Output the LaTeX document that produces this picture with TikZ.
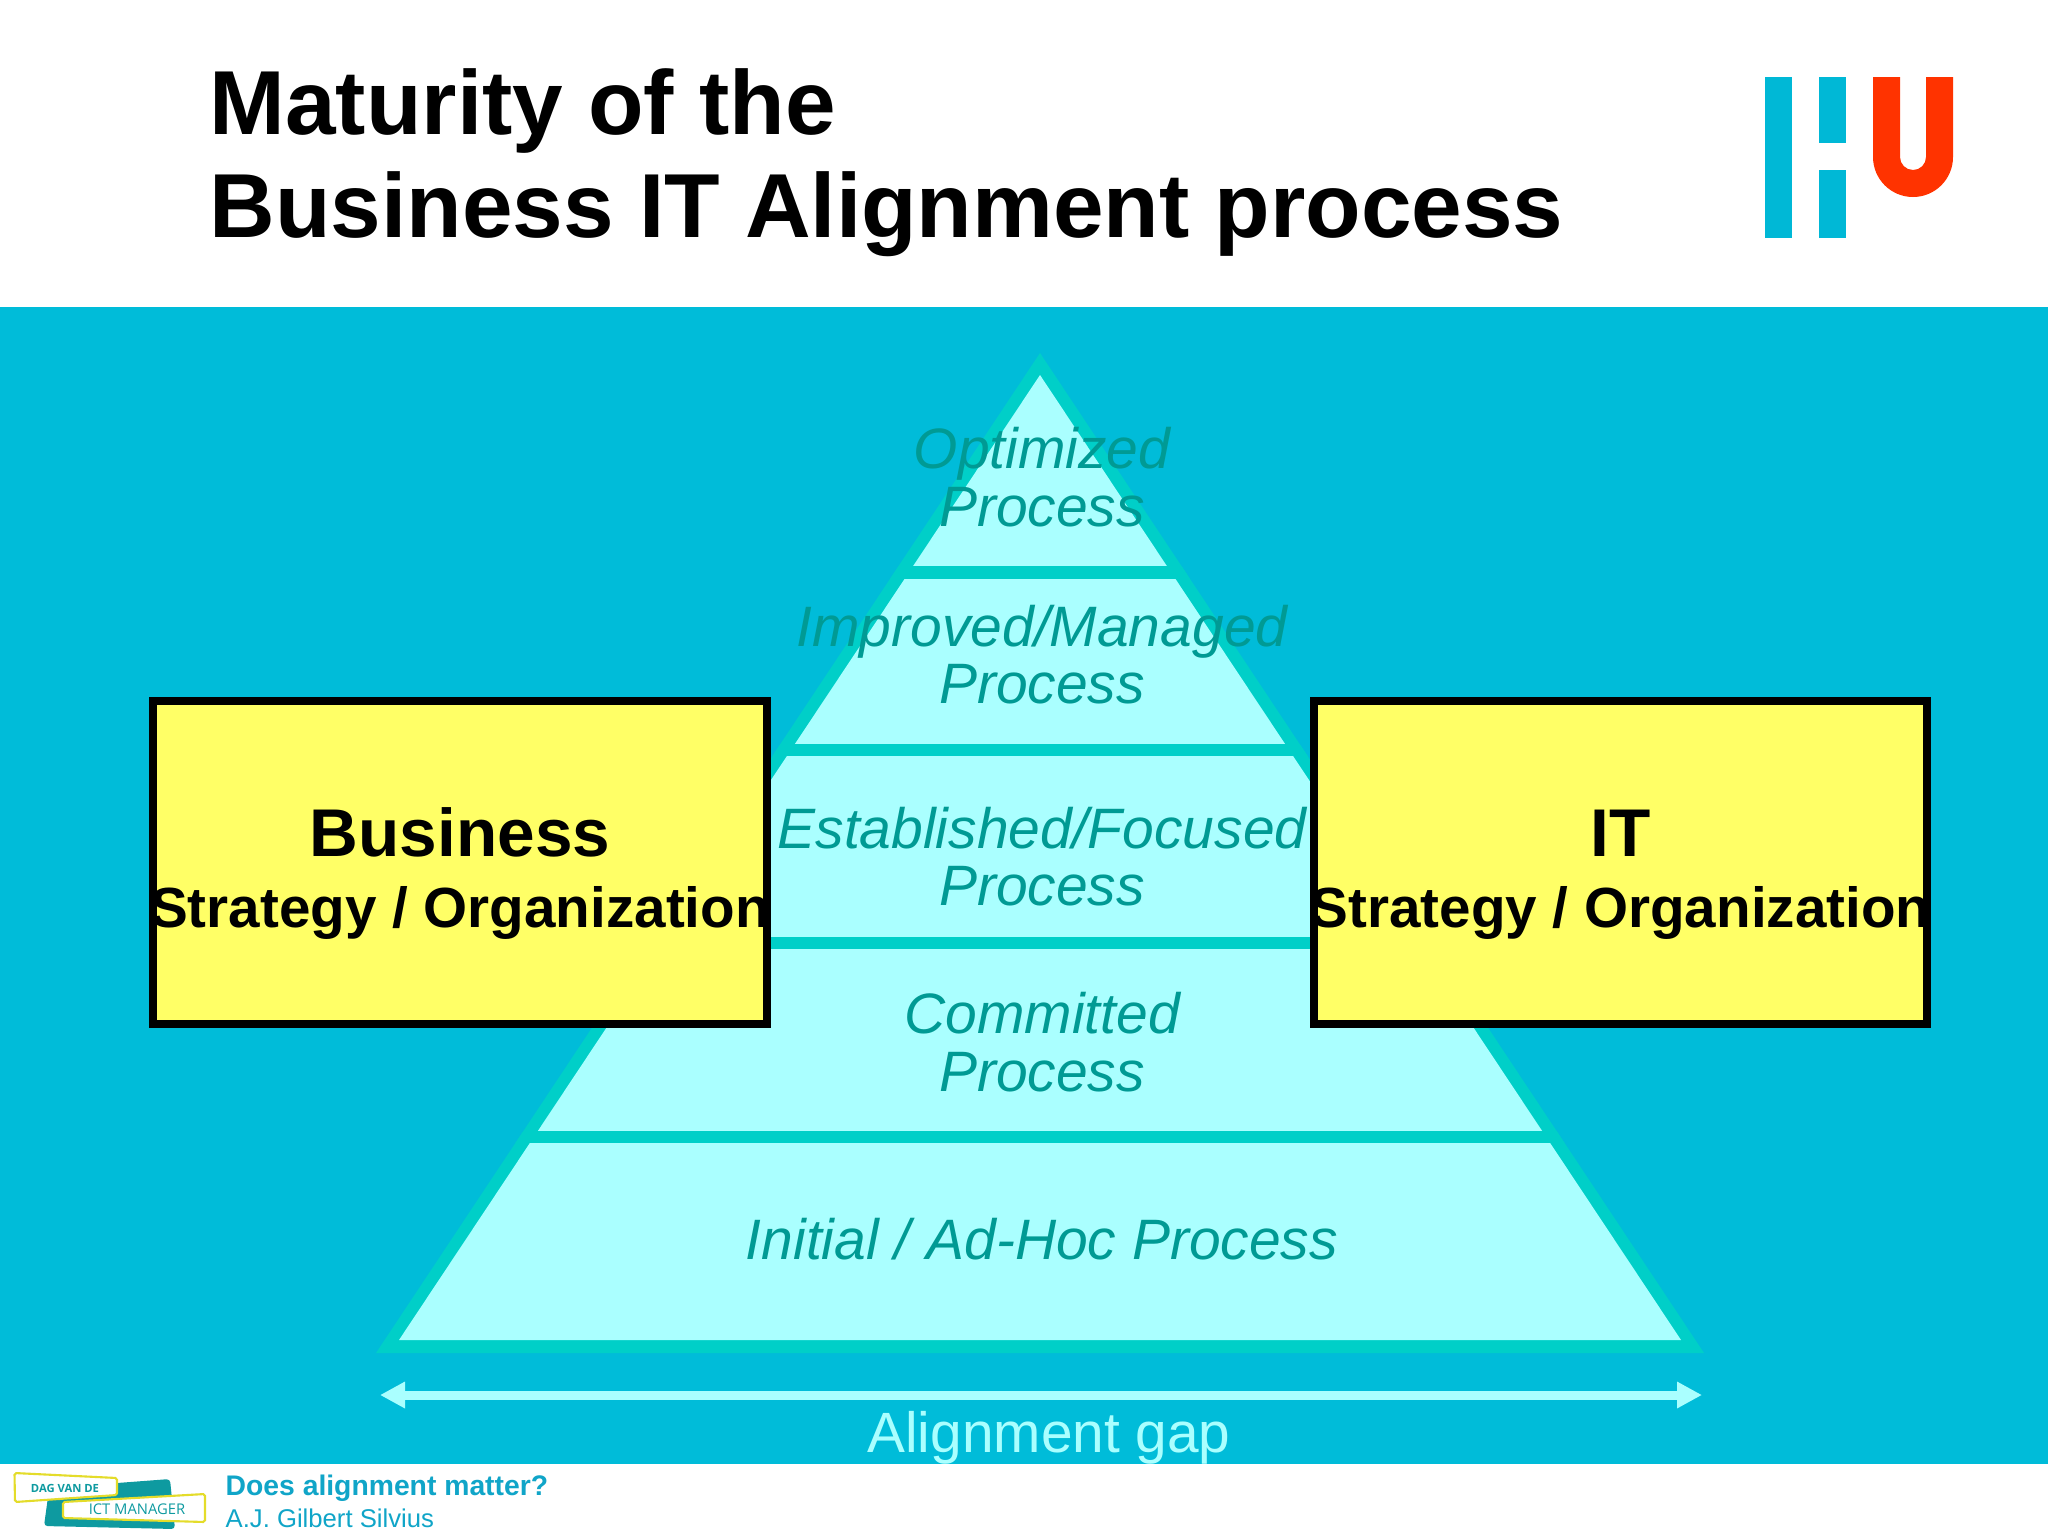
\documentclass[tikz,border=0pt]{standalone}
\usepackage{fontspec}
\setmainfont{Liberation Sans}
\newfontfamily\logofont{Open Sans}
\usetikzlibrary{arrows.meta}
\definecolor{bgteal}{HTML}{00BCD9}
\definecolor{rimc}{HTML}{00CFC8}
\definecolor{pale}{HTML}{AAFFFF}
\definecolor{lvltext}{HTML}{009A94}
\definecolor{boxy}{HTML}{FFFF66}
\definecolor{hublue}{HTML}{00B8D6}
\definecolor{hured}{HTML}{FF3300}
\definecolor{foot}{HTML}{10A5C8}
\definecolor{logoteal}{HTML}{0E9AA0}
\definecolor{logoy}{HTML}{E4DC2A}
\tikzset{
  x=0.01cm,y=-0.01cm,
  lvl/.style={font=\fontsize{16.2}{16.4}\selectfont\itshape,text=lvltext,align=center,inner sep=0pt},
  yellowbox/.style={draw=black,line width=0.08cm,fill=boxy,minimum width=6.13cm,minimum height=3.23cm,inner sep=0pt},
  boxtext/.style={align=center,inner sep=0pt,text=black},
  band/.style={fill=rimc},
  titletext/.style={anchor=base west,inner sep=0pt,font=\fontsize{25.85}{25.85}\selectfont\bfseries},
  logotag/.style={draw=logoy,line width=0.6pt,fill=white,rounded corners=0.5pt},
}
\begin{document}
\begin{tikzpicture}
\useasboundingbox (0,0) rectangle (2048,1536);
\fill[white] (0,0) rectangle (2048,1536);
\fill[bgteal] (0,307) rectangle (2048,1464);
% title
\node[titletext] (title1) at (209,134) {Maturity of the};
\node[titletext] (title2) at (209,237) {Business IT Alignment process};
% HU logo
\fill[hublue] (1765,77) rectangle (1792,238);
\fill[hublue] (1819,77) rectangle (1846,143);
\fill[hublue] (1819,170) rectangle (1846,238);
\fill[hured] (1873,77) -- (1900,77) -- (1900,157) arc[start angle=180,end angle=360,x radius=13,y radius=-13] -- (1926,77) -- (1953,77) -- (1953,157) arc[start angle=360,end angle=180,x radius=40,y radius=-40] -- cycle;
% pyramid
\fill[rimc] (1040,353) -- (1704,1353) -- (376,1353) -- cycle;
\fill[pale] (1040,375) -- (1681,1340) -- (399,1340) -- cycle;
\begin{scope}
\clip (1040,353) -- (1704,1353) -- (376,1353) -- cycle;
\fill[band] (300,566) rectangle (1780,579);
\fill[band] (300,744) rectangle (1780,756);
\fill[band] (300,937) rectangle (1780,949);
\fill[band] (300,1131) rectangle (1780,1143);
\end{scope}
% level labels
\node[lvl] (l5) at (1042,477) {Optimized\\Process};
\node[lvl] (l4) at (1042,654.5) {Improved/Managed\\Process};
\node[lvl] (l3) at (1042,856.5) {Established/Focused\\Process};
\node[lvl] (l2) at (1042,1042) {Committed\\Process};
\node[lvl] (l1) at (1042,1239) {Initial / Ad-Hoc Process};
% boxes
\node[yellowbox] (biz) at (460,862.5) {};
\node[yellowbox] (it) at (1620.5,862.5) {};
\node[boxtext,anchor=base,font=\fontsize{19.2}{19.2}\selectfont\bfseries] (bizt) at (460,856) {Business};
\node[boxtext,anchor=base,font=\fontsize{16.1}{16.1}\selectfont\bfseries] (bizs) at (460,927) {Strategy / Organization};
\node[boxtext,anchor=base,font=\fontsize{19.2}{19.2}\selectfont\bfseries] (itt) at (1620.5,856) {IT};
\node[boxtext,anchor=base,font=\fontsize{16.1}{16.1}\selectfont\bfseries] (its) at (1620.5,927) {Strategy / Organization};
% gap arrow
\coordinate (gapL) at (380,1395);
\coordinate (gapR) at (1702,1395);
\draw[pale,line width=0.09cm,{Triangle[length=0.25cm,width=0.25cm]}-{Triangle[length=0.25cm,width=0.25cm]}] (gapL) -- (gapR);
\node[inner sep=0pt,anchor=base,text=pale,font=\fontsize{16.15}{16.15}\selectfont] (gap) at (1049,1452) {Alignment gap};
% footer logo
\fill[logoteal,rounded corners=1pt] (117,1483) -- (170,1479) -- (175,1529) -- (44,1526) -- (48,1497) -- cycle;
\draw[logotag] (14.5,1473) -- (117,1478) -- (117,1495) -- (15,1502) -- cycle;
\draw[logotag] (63,1502) -- (205,1494) -- (205,1522) -- (63,1518) -- cycle;
\node[inner sep=0pt,text=logoteal,font=\fontsize{3.2}{3.2}\logofont\bfseries] (dag) at (65,1488) {DAG VAN DE};
\node[inner sep=0pt,text=logoteal,font=\fontsize{4.2}{4.2}\logofont] (ict) at (137,1509) {ICT MANAGER};
% footer text
\node[anchor=base west,inner sep=0pt,text=foot,font=\fontsize{8.05}{8.05}\selectfont\bfseries] (f1) at (225,1495) {Does alignment matter?};
\node[anchor=base west,inner sep=0pt,text=foot,font=\fontsize{7.3}{7.3}\selectfont] (f2) at (225,1527) {A.J. Gilbert Silvius};
\end{tikzpicture}
\end{document}
